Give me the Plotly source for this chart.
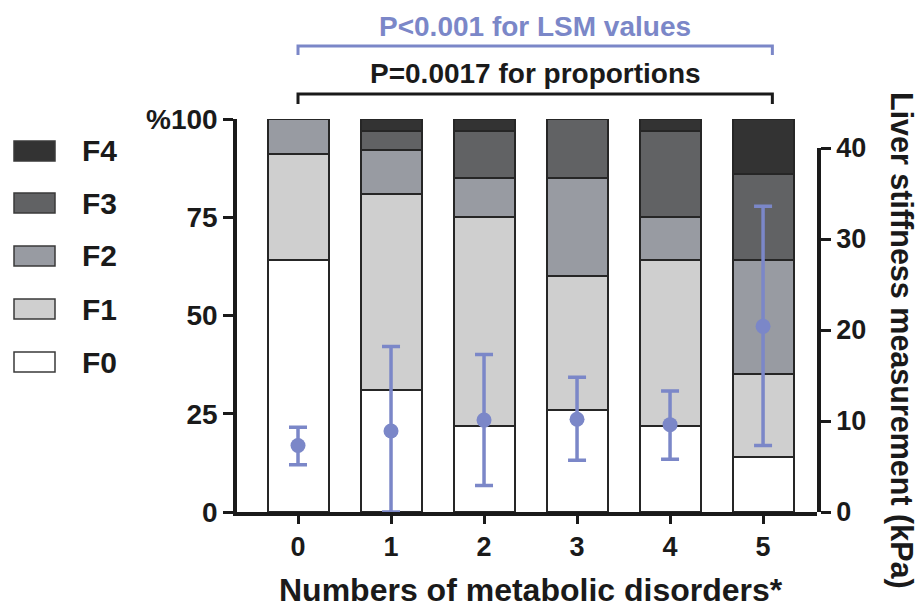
import plotly.graph_objects as go

# ---------------- data ----------------
categories = [0, 1, 2, 3, 4, 5]
stages = ["F0", "F1", "F2", "F3", "F4"]
F0 = [64, 31, 22, 26, 22, 14]
F1 = [27, 50, 53, 34, 42, 21]
F2 = [9, 11, 10, 25, 11, 29]
F3 = [0, 5, 12, 15, 22, 22]
F4 = [0, 3, 3, 0, 3, 14]
lsm_center = [7.3, 8.9, 10.1, 10.2, 9.6, 20.4]
lsm_upper = [9.3, 18.2, 17.3, 14.8, 13.3, 33.6]
lsm_lower = [5.2, 0.0, 2.9, 5.7, 5.8, 7.3]
left_ticks = [0, 25, 50, 75, 100]
left_ticktext = ["0", "25", "50", "75", "%100"]
right_ticks = [0, 10, 20, 30, 40]

# ---------------- styles ----------------
colors = {"F0": "#ffffff", "F1": "#cfcfcf", "F2": "#989ba2", "F3": "#616264", "F4": "#333333"}
blue = "#7b87c8"
FONT = "Liberation Sans, Arial, sans-serif"
W, H = 918, 607
L, R, T, B = 237, 101, 119, 95
PW = W - L - R
PH = H - T - B


def px(xp):
    return (xp - L) / PW


def py(yp):
    return (H - B - yp) / PH


fig = go.Figure()
vals = {"F0": F0, "F1": F1, "F2": F2, "F3": F3, "F4": F4}
for s in stages:
    fig.add_trace(go.Bar(
        x=categories, y=vals[s], name=s, width=0.656,
        marker=dict(color=colors[s], line=dict(color="#262626", width=2)),
        xaxis="x", yaxis="y", showlegend=False,
    ))

fig.add_trace(go.Scatter(
    x=categories, y=lsm_center, mode="markers",
    marker=dict(color=blue, size=15),
    error_y=dict(type="data", symmetric=False,
                 array=[u - c for u, c in zip(lsm_upper, lsm_center)],
                 arrayminus=[c - l for c, l in zip(lsm_center, lsm_lower)],
                 color=blue, thickness=3.5, width=9),
    xaxis="x", yaxis="y2", showlegend=False, cliponaxis=False,
))

fig.update_layout(
    width=W, height=H,
    margin=dict(l=L, r=R, t=T, b=B, autoexpand=False),
    paper_bgcolor="white", plot_bgcolor="rgba(0,0,0,0)",
    barmode="stack", bargap=0.3,
    font=dict(family=FONT, color="#1a1a1a"),
    xaxis=dict(
        range=[-0.656, 5.58], tickvals=categories, ticktext=[str(c) for c in categories],
        showline=True, linecolor="#1a1a1a", linewidth=3.5,
        ticks="outside", ticklen=8, tickwidth=3, tickcolor="#1a1a1a",
        tickfont=dict(size=27, family=FONT, color="#1a1a1a", weight="bold"),
        showgrid=False, zeroline=False, anchor="y", automargin=False,
    ),
    yaxis=dict(
        range=[0, 100], domain=[0, 1], tickvals=left_ticks, ticktext=left_ticktext,
        showline=True, linecolor="#1a1a1a", linewidth=3.5,
        ticks="outside", ticklen=10, tickwidth=3, tickcolor="#1a1a1a",
        tickfont=dict(size=28, family=FONT, color="#1a1a1a", weight="bold"),
        showgrid=False, zeroline=False, anchor="x", automargin=False,
    ),
    yaxis2=dict(
        range=[0, 40], domain=[0, 364 / 393], tickvals=right_ticks,
        side="right", anchor="x",
        showline=True, linecolor="#1a1a1a", linewidth=3.5,
        ticks="outside", ticklen=10, tickwidth=3, tickcolor="#1a1a1a",
        tickfont=dict(size=27, family=FONT, color="#1a1a1a", weight="bold"),
        showgrid=False, zeroline=False, automargin=False,
    ),
)

shapes = []
annotations = []
# legend
legend_order = ["F4", "F3", "F2", "F1", "F0"]
legend_y = [151, 203, 256, 309, 362]
for s, yc in zip(legend_order, legend_y):
    shapes.append(dict(type="rect", xref="paper", yref="paper",
                       x0=px(14), x1=px(55), y0=py(yc - 10), y1=py(yc + 10),
                       fillcolor=colors[s], line=dict(color="#3a3a3a", width=1.5)))
    annotations.append(dict(text="<b>%s</b>" % s, xref="paper", yref="paper",
                            x=px(80), y=py(yc), xanchor="left", yanchor="middle",
                            showarrow=False, font=dict(size=30, family=FONT, color="#1a1a1a")))

# brackets
for ytop, ydrop, col in [(46, 55, blue), (94, 104, "#1a1a1a")]:
    shapes.append(dict(type="path", xref="x", yref="paper",
                       path="M 0,%f L 0,%f L 5.1,%f L 5.1,%f" % (py(ydrop), py(ytop), py(ytop), py(ydrop)),
                       line=dict(color=col, width=3)))

annotations.append(dict(text="<b>P<0.001 for LSM values</b>", xref="x", yref="paper",
                        x=2.55, y=py(27), xanchor="center", yanchor="middle", showarrow=False,
                        font=dict(size=28, family=FONT, color=blue)))
annotations.append(dict(text="<b>P=0.0017 for proportions</b>", xref="x", yref="paper",
                        x=2.55, y=py(74), xanchor="center", yanchor="middle", showarrow=False,
                        font=dict(size=28, family=FONT, color="#1a1a1a")))
annotations.append(dict(text="<b>Liver stiffness measurement (kPa)</b>", xref="paper", yref="paper",
                        x=px(902), y=py(340), xanchor="center", yanchor="middle", showarrow=False,
                        textangle=90, font=dict(size=30.5, family=FONT, color="#1a1a1a")))
annotations.append(dict(text="<b>Numbers of metabolic disorders*</b>", xref="x", yref="paper",
                        x=2.5, y=py(590), xanchor="center", yanchor="middle", showarrow=False,
                        font=dict(size=32, family=FONT, color="#1a1a1a")))

fig.update_layout(shapes=shapes, annotations=annotations)
fig.write_html("out.html", post_script="document.body.style.margin='0';",
               config={"displayModeBar": False})
